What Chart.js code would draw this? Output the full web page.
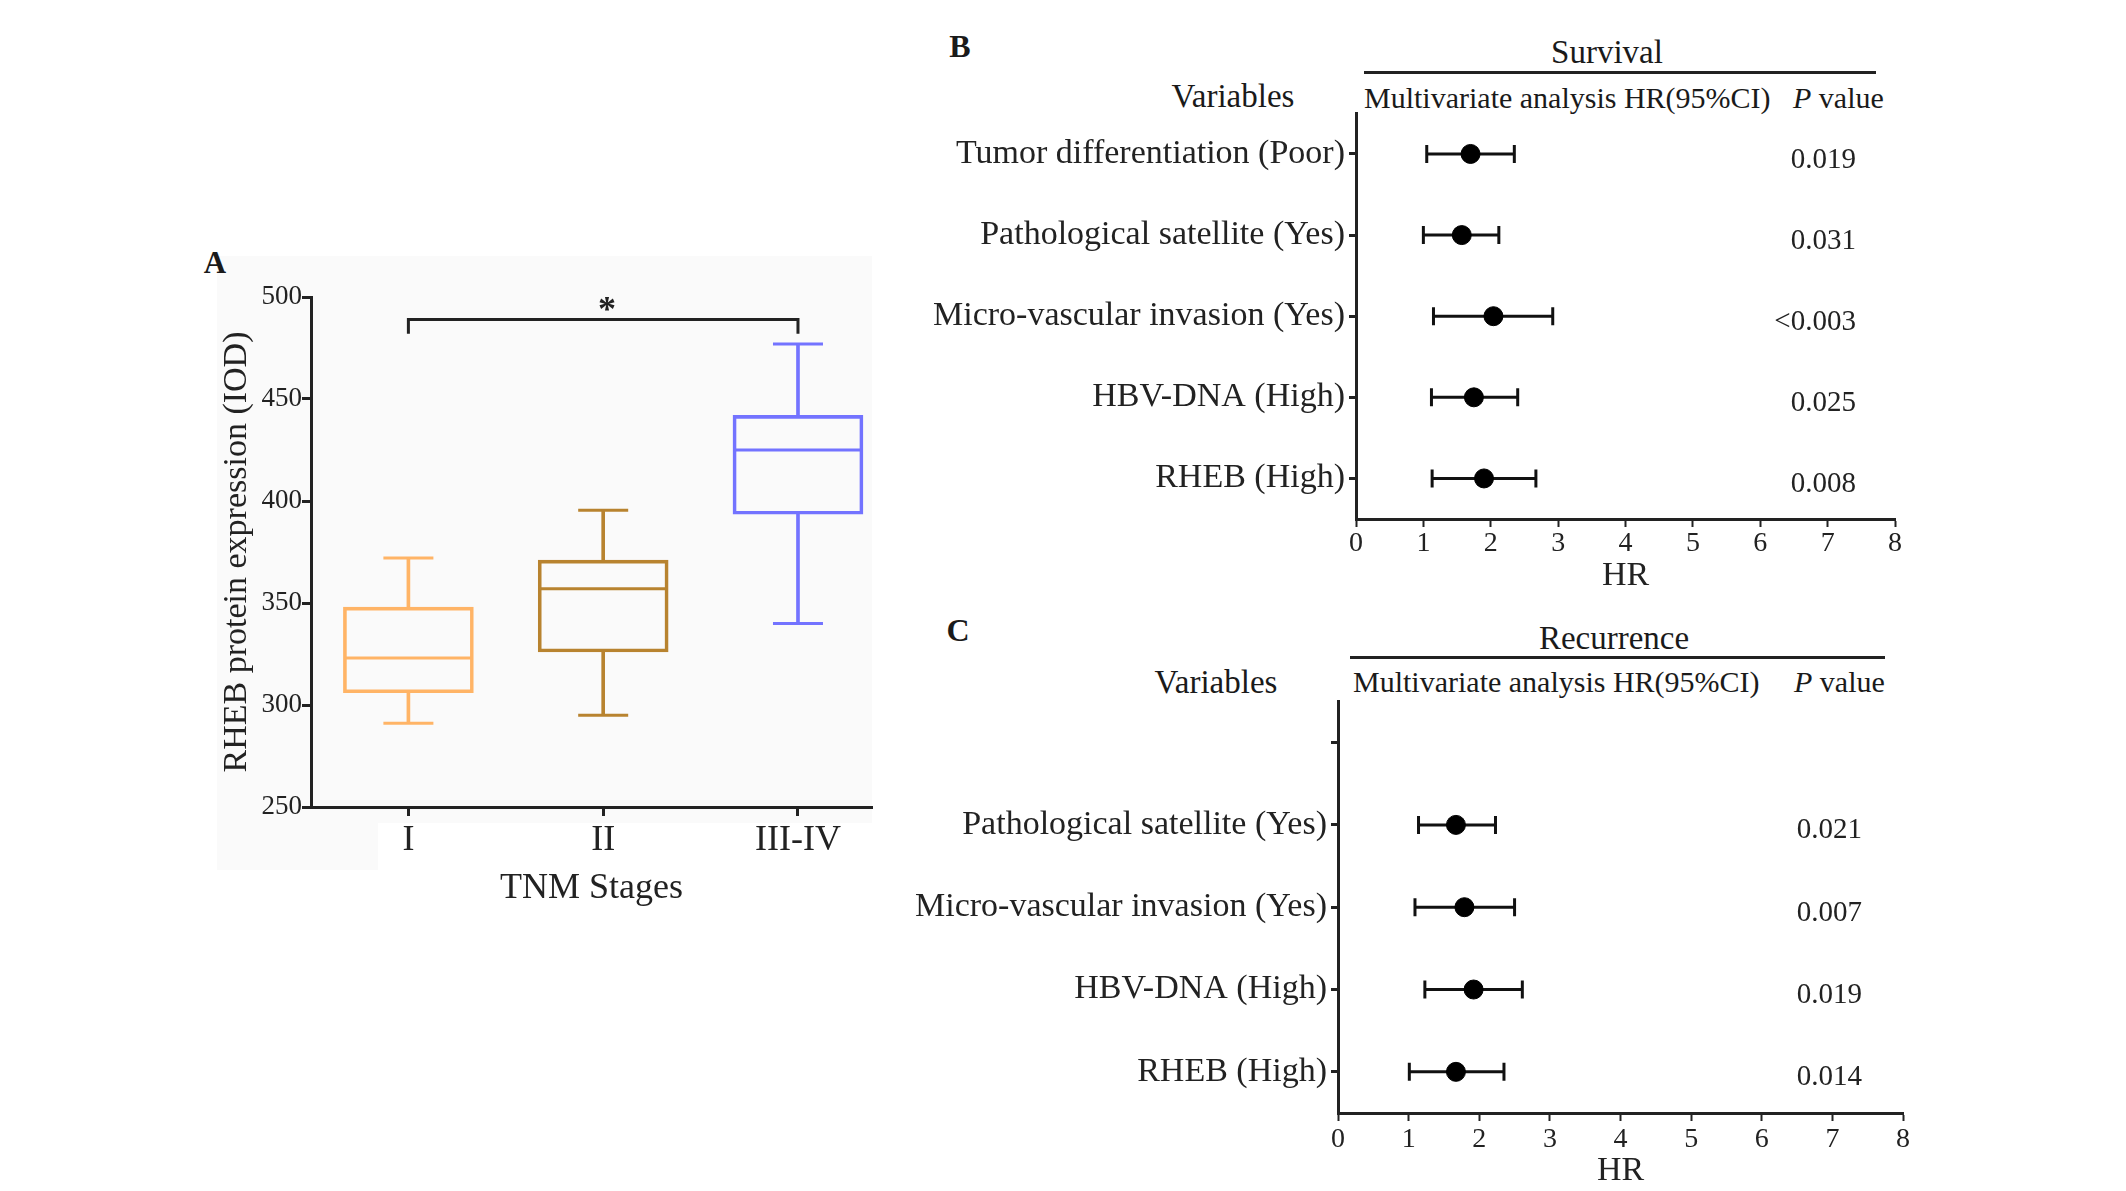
<!DOCTYPE html>
<html>
<head>
<meta charset="utf-8">
<script src="https://cdn.jsdelivr.net/npm/chart.js@4.4.1/dist/chart.umd.min.js"></script>
<style>
  body { margin: 0; background: #fff; width: 2126px; height: 1191px; position: relative; overflow: hidden;
         font-family: 'Liberation Serif', 'Times New Roman', serif; color: #1a1a1a; }
  .box { position: absolute; }
  .txt { position: absolute; white-space: nowrap; line-height: 1; }
  .c { transform: translate(-50%, -50%); }
  .l { transform: translateY(-50%); }
  .rule { position: absolute; height: 3px; background: #222; }
  .bgA { position: absolute; background: #fafafa; }
</style>
</head>
<body>
<div class="bgA" style="left:217px; top:256px; width:655px; height:567px;"></div>
<div class="bgA" style="left:217px; top:823px; width:161px; height:47px;"></div>

<div class="txt c" style="left:215px; top:262px; font-size:31px; font-weight:bold;">A</div>
<div class="txt c" style="left:960px; top:46px; font-size:32px; font-weight:bold;">B</div>
<div class="txt c" style="left:958px; top:630px; font-size:32px; font-weight:bold;">C</div>

<!-- cabeçalho B -->
<div class="txt c" style="left:1607px; top:52px; font-size:33px;">Survival</div>
<div class="rule" style="left:1364px; top:71px; width:512px;"></div>
<div class="txt c" style="left:1233px; top:96px; font-size:33px;">Variables</div>
<div class="txt l" style="left:1364px; top:98px; font-size:30px;">Multivariate analysis HR(95%CI)</div>
<div class="txt l" style="left:1793px; top:98px; font-size:30px;"><i>P</i> value</div>

<!-- cabeçalho C -->
<div class="txt c" style="left:1614px; top:638px; font-size:33px;">Recurrence</div>
<div class="rule" style="left:1350px; top:656px; width:535px;"></div>
<div class="txt c" style="left:1216px; top:682px; font-size:33px;">Variables</div>
<div class="txt l" style="left:1353px; top:682px; font-size:30px;">Multivariate analysis HR(95%CI)</div>
<div class="txt l" style="left:1794px; top:682px; font-size:30px;"><i>P</i> value</div>

<div class="box" style="left:160px; top:250px; width:760px; height:680px;"><canvas id="chartA"></canvas></div>
<div class="box" style="left:900px; top:89px; width:1030px; height:511px;"><canvas id="chartB"></canvas></div>
<div class="box" style="left:880px; top:677px; width:1060px; height:514px;"><canvas id="chartC"></canvas></div>

<script>
//DADOS - PAINEL A (boxplot)
const stages = ["I", "II", "III-IV"];
const whiskerMin = [291, 295, 340];
const q1 = [306, 326, 393.5];
const median = [323, 357, 425];
const q3 = [348, 371, 442];
const whiskerMax = [372, 395.5, 477];
const stageColors = ["#FFB466", "#B8832F", "#7373FF"];
const yTicksA = [250, 300, 350, 400, 450, 500];
const bracketX = [1, 1, 3, 3];
const bracketY = [482, 489, 489, 482];

//DADOS - PAINEL B (sobrevida)
const survVars = ["Tumor differentiation (Poor)", "Pathological satellite (Yes)", "Micro-vascular invasion (Yes)", "HBV-DNA (High)", "RHEB (High)"];
const survHR = [1.70, 1.57, 2.04, 1.75, 1.90];
const survLow = [1.05, 1.00, 1.15, 1.12, 1.13];
const survHigh = [2.35, 2.12, 2.92, 2.40, 2.67];
const survP = ["0.019", "0.031", "<0.003", "0.025", "0.008"];

//DADOS - PAINEL C (recorrência)
const recVars = ["", "Pathological satellite (Yes)", "Micro-vascular invasion (Yes)", "HBV-DNA (High)", "RHEB (High)"];
const recHR = [null, 1.67, 1.79, 1.92, 1.67];
const recLow = [null, 1.14, 1.09, 1.23, 1.01];
const recHigh = [null, 2.23, 2.50, 2.61, 2.35];
const recP = ["", "0.021", "0.007", "0.019", "0.014"];

const hrTicks = [0, 1, 2, 3, 4, 5, 6, 7, 8];

Chart.defaults.font.family = "'Liberation Serif', 'Times New Roman', serif";
Chart.defaults.color = "#1a1a1a";
Chart.defaults.animation = false;
Chart.defaults.events = [];
Chart.defaults.plugins.legend.display = false;
Chart.defaults.plugins.tooltip.enabled = false;
Chart.defaults.maintainAspectRatio = false;

const ink = "#222";

function eixo(extra) {
  return Object.assign({
    offset: false,
    grid: { display: true, drawOnChartArea: false, drawTicks: true, tickLength: 9, tickWidth: 3, tickColor: ink, offset: false },
    border: { display: true, color: ink, width: 3 },
  }, extra);
}

//PAINEL A
const capPoints = [];
const capColors = [];
stages.forEach((s, i) => {
  capPoints.push({ x: i + 1, y: whiskerMin[i] }, { x: i + 1, y: whiskerMax[i] });
  capColors.push(stageColors[i], stageColors[i]);
});

const asteriscoPlugin = {
  id: "asterisco",
  afterDatasetsDraw(chart) {
    const { ctx, scales } = chart;
    ctx.save();
    ctx.font = "bold 36px 'Liberation Serif'";
    ctx.fillStyle = ink;
    ctx.textAlign = "center";
    ctx.textBaseline = "middle";
    ctx.fillText("*", scales.x.getPixelForValue(2.02), scales.y.getPixelForValue(bracketY[1]) - 8);
    ctx.restore();
  },
};

new Chart(document.getElementById("chartA"), {
  type: "scatter",
  data: {
    datasets: [
      {
        type: "bar",
        data: stages.map((s, i) => ({ x: i + 1, y: [q1[i], q3[i]] })),
        backgroundColor: "rgba(0,0,0,0)",
        borderColor: stageColors,
        borderWidth: 3,
        borderSkipped: false,
        barThickness: 130,
        grouped: false,
      },
      {
        type: "bar",
        data: stages.map((s, i) => ({ x: i + 1, y: [whiskerMin[i], q1[i]] })),
        backgroundColor: stageColors,
        borderWidth: 0,
        barThickness: 3,
        grouped: false,
      },
      {
        type: "bar",
        data: stages.map((s, i) => ({ x: i + 1, y: [q3[i], whiskerMax[i]] })),
        backgroundColor: stageColors,
        borderWidth: 0,
        barThickness: 3,
        grouped: false,
      },
      {
        data: stages.map((s, i) => ({ x: i + 1, y: median[i] })),
        pointStyle: "line",
        pointRadius: 64,
        pointBorderWidth: 3,
        pointBorderColor: stageColors,
      },
      {
        data: capPoints,
        pointStyle: "line",
        pointRadius: 25,
        pointBorderWidth: 3,
        pointBorderColor: capColors,
      },
      {
        data: bracketX.map((x, i) => ({ x, y: bracketY[i] })),
        showLine: true,
        borderColor: ink,
        borderWidth: 3,
        pointRadius: 0,
      },
    ],
  },
  options: {
    layout: { autoPadding: false, padding: { top: 47, right: 48, left: 0, bottom: 0 } },
    scales: {
      x: eixo({
        type: "linear",
        min: 0.5,
        max: 3.38,
        afterBuildTicks: (scale) => { scale.ticks = stages.map((s, i) => ({ value: i + 1 })); },
        afterFit: (scale) => { scale.height = 123; },
        ticks: { font: { size: 36 }, color: ink, padding: 3, maxRotation: 0, callback: (v) => stages[v - 1] },
        title: { display: true, text: "TNM Stages", font: { size: 36 }, color: ink, padding: { top: 0, bottom: 20 } },
      }),
      y: eixo({
        type: "linear",
        min: 250,
        max: 500,
        afterBuildTicks: (scale) => { scale.ticks = yTicksA.map((v) => ({ value: v })); },
        afterFit: (scale) => { scale.width = 151; },
        ticks: { font: { size: 27 }, color: ink, padding: 0 },
        title: { display: true, text: "RHEB protein expression (IOD)", font: { size: 34 }, color: ink, padding: { top: 57, bottom: 0 } },
      }),
    },
  },
  plugins: [asteriscoPlugin],
});

//PAINÉIS B e C (forest plot)
function forest(canvasId, vars, hr, low, high, pvals, cfg) {
  const datasets = [];
  vars.forEach((v, i) => {
    if (hr[i] === null) return;
    datasets.push({
      data: [{ x: low[i], y: i + 1 }, { x: high[i], y: i + 1 }],
      showLine: true,
      borderColor: "#111",
      borderWidth: 3,
      pointStyle: "line",
      pointRotation: 90,
      pointRadius: 9,
      pointBorderWidth: 3,
      pointBorderColor: "#111",
      order: 1,
    });
  });
  datasets.push({
    data: hr.map((h, i) => (h === null ? null : { x: h, y: i + 1 })).filter((d) => d),
    pointRadius: 9.5,
    backgroundColor: "#000",
    borderColor: "#000",
    order: 0,
  });

  const pPlugin = {
    id: "pvalores",
    afterDatasetsDraw(chart) {
      const { ctx, scales } = chart;
      ctx.save();
      ctx.font = "29px 'Liberation Serif'";
      ctx.fillStyle = ink;
      ctx.textAlign = "right";
      ctx.textBaseline = "middle";
      pvals.forEach((p, i) => {
        ctx.fillText(p, scales.x.getPixelForValue(7.42), scales.y.getPixelForValue(i + 1) + 6);
      });
      ctx.restore();
    },
  };

  new Chart(document.getElementById(canvasId), {
    type: "scatter",
    data: { datasets },
    options: {
      layout: { autoPadding: false, padding: { top: 0, right: cfg.right, left: 0, bottom: 0 } },
      scales: {
        x: eixo({
          type: "linear",
          min: 0,
          max: 8,
          afterBuildTicks: (scale) => { scale.ticks = hrTicks.map((v) => ({ value: v })); },
          afterFit: (scale) => { scale.height = cfg.xh; },
          grid: { display: true, drawOnChartArea: false, drawTicks: true, tickLength: 8, tickWidth: 2, tickColor: ink },
          ticks: { font: { size: 28 }, color: ink, padding: cfg.xpad, maxRotation: 0 },
          title: { display: true, text: "HR", font: { size: 34 }, color: ink, padding: { top: 0, bottom: cfg.tpad } },
        }),
        y: eixo({
          type: "linear",
          reverse: true,
          min: 0.5,
          max: vars.length + 0.5,
          afterBuildTicks: (scale) => { scale.ticks = vars.map((v, i) => ({ value: i + 1 })); },
          afterFit: (scale) => { scale.width = cfg.yw; },
          grid: { display: true, drawOnChartArea: false, drawTicks: true, tickLength: 7, tickWidth: 3, tickColor: ink },
          ticks: { font: { size: 34 }, color: ink, padding: 4, callback: (v) => vars[v - 1] },
        }),
      },
    },
    plugins: [pPlugin],
  });
}

forest("chartB", survVars, survHR, survLow, survHigh, survP, { right: 35, xh: 81, yw: 456, xpad: 0, tpad: 4 });
forest("chartC", recVars, recHR, recLow, recHigh, recP, { right: 37, xh: 78, yw: 458, xpad: 2, tpad: 0 });
</script>
</body>
</html>
